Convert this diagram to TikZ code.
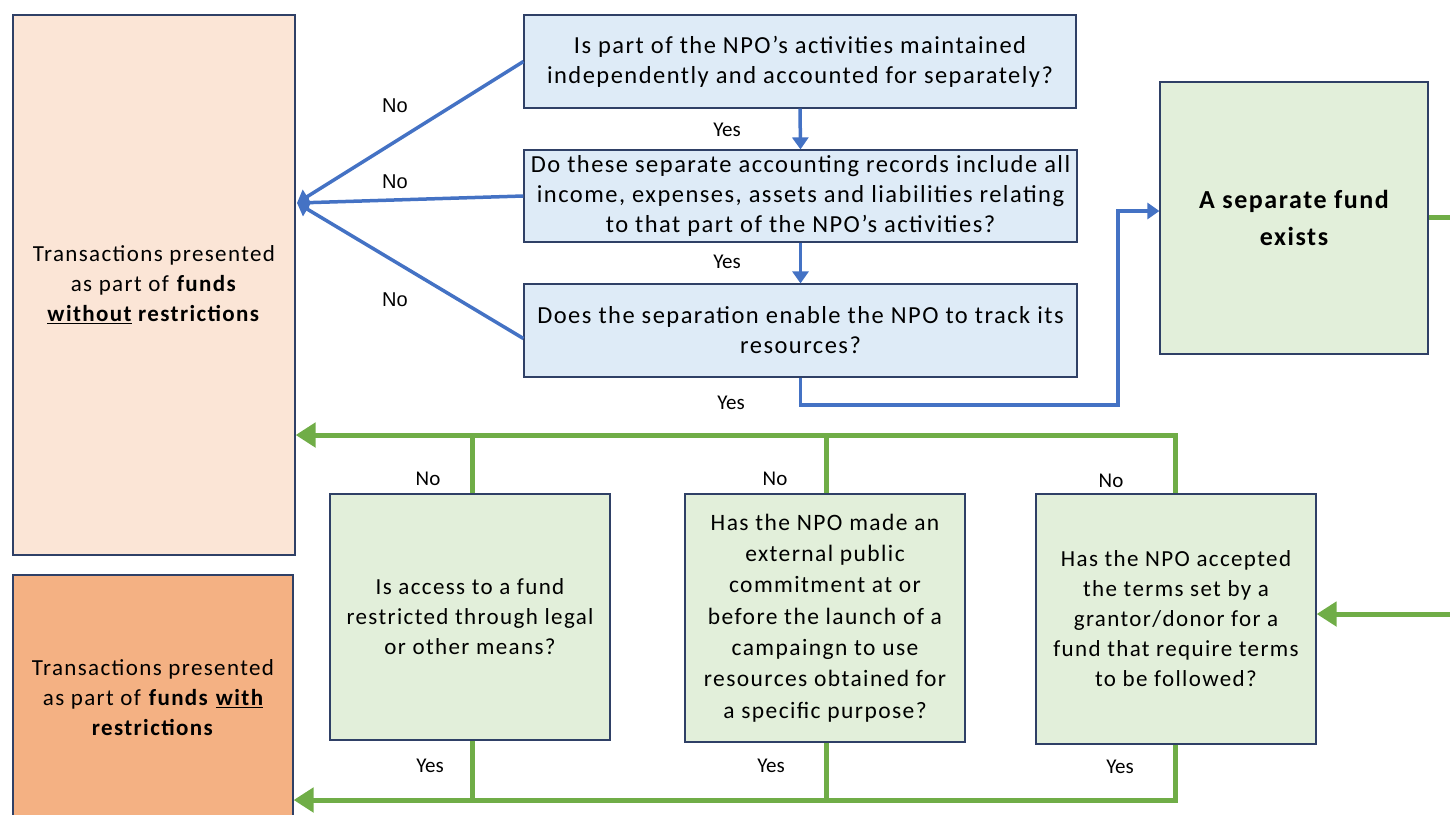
\documentclass[tikz,border=0pt]{standalone}
\usepackage{fontspec}
\setmainfont[LetterSpace=6]{Carlito}
\newfontfamily\lblfont{Liberation Sans}
\newfontfamily\yesfont{Carlito}
\usetikzlibrary{arrows.meta}
\definecolor{navy}{HTML}{2F4066}
\definecolor{peach}{HTML}{FBE5D6}
\definecolor{orng}{HTML}{F4B183}
\definecolor{lblue}{HTML}{DEEBF7}
\definecolor{lgreen}{HTML}{E2EFDA}
\definecolor{bline}{HTML}{4472C4}
\definecolor{gline}{HTML}{70AD47}
\tikzset{
  boxst/.style={draw=navy, line width=1.2pt, inner sep=0pt, align=center, font=\fontsize{23}{30}\selectfont},
  bluebox/.style={boxst, fill=lblue, font=\fontsize{24.5}{30}\selectfont},
  bluearr/.style={draw=bline, line width=3.5pt, -{Triangle[length=12pt,width=16pt]}},
  bluepl/.style={draw=bline, line width=3.5pt},
  greenarr/.style={draw=gline, line width=5pt, -{Triangle[length=20pt,width=24pt]}},
  greenpl/.style={draw=gline, line width=5pt},
  nolbl/.style={font=\lblfont\fontsize{20}{22}\selectfont, inner sep=0pt},
  yeslbl/.style={font=\yesfont\fontsize{21}{22}\selectfont, inner sep=0pt}
}
\begin{document}
\begin{tikzpicture}[x=1pt,y=-1pt]
\useasboundingbox (0,0) rectangle (1450,814);
% left boxes
\node[boxst, fill=peach, minimum width=282pt, minimum height=540pt] (L1) at (154,285)
  {Transactions presented\\as part of \textbf{funds}\\\textbf{\underline{without}} \textbf{restrictions}};
\node[boxst, fill=orng, minimum width=280pt, minimum height=245pt] (L2) at (153,697.5)
  {Transactions presented\\as part of \textbf{funds} \textbf{\underline{with}}\\\textbf{restrictions}};
% blue question boxes
\node[bluebox, minimum width=552pt, minimum height=93pt] (Q1) at (800,61.5)
  {Is part of the NPO's activities maintained\\independently and accounted for separately?};
\node[bluebox, minimum width=553pt, minimum height=92pt] (Q2) at (800.5,196)
  {Do these separate accounting records include all\\income, expenses, assets and liabilities relating\\to that part of the NPO's activities?};
\node[bluebox, minimum width=553pt, minimum height=93pt] (Q3) at (800.5,330.5)
  {Does the separation enable the NPO to track its\\resources?};
% fund box
\node[boxst, fill=lgreen, minimum width=268pt, minimum height=272pt, font=\fontsize{26}{37}\selectfont\bfseries] (F) at (1294,218)
  {A separate fund\\exists};
% green question boxes
\node[boxst, fill=lgreen, minimum width=280pt, minimum height=246pt] (G1) at (470,617)
  {Is access to a fund\\restricted through legal\\or other means?};
\node[boxst, fill=lgreen, minimum width=280pt, minimum height=248pt, font=\fontsize{23.5}{31.3}\selectfont] (G2) at (825,618)
  {Has the NPO made an\\external public\\commitment at or\\before the launch of a\\campaingn to use\\resources obtained for\\a specific purpose?};
\node[boxst, fill=lgreen, minimum width=280pt, minimum height=250pt] (G3) at (1176,619)
  {Has the NPO accepted\\the terms set by a\\grantor/donor for a\\fund that require terms\\to be followed?};
% blue connectors
\coordinate (bin) at (297,203);
\draw[bluearr] (Q1.west) -- (bin);
\draw[bluearr] (Q2.west) -- (bin);
\draw[bluearr] ([yshift=-8pt]Q3.west) -- (bin);
\draw[bluearr] (Q1.south) -- (Q2.north);
\draw[bluearr] (Q2.south) -- (Q3.north);
\draw[bluearr] (Q3.south) |- (1118,405) |- (F.west |- 0,211);
\node[nolbl] (n1) at (395,106) {No};
\node[nolbl] (n2) at (395,182) {No};
\node[nolbl] (n3) at (395,300) {No};
\node[yeslbl] (y1) at (727,130) {Yes};
\node[yeslbl] (y2) at (727,262) {Yes};
\node[yeslbl] (y3) at (731,403) {Yes};
% green connectors
\coordinate (tbus) at (1175,435);
\coordinate (bbus) at (1175,800);
\draw[greenarr] (G3.north -| tbus) -- (tbus) -- (L1.east |- tbus);
\draw[greenpl] (G1.north -| 472,0) -- (472,435);
\draw[greenpl] (G2.north -| 826,0) -- (826,435);
\draw[greenarr] (G3.south -| bbus) -- (bbus) -- (L2.east |- bbus);
\draw[greenpl] (G1.south -| 472,0) -- (472,800);
\draw[greenpl] (G2.south -| 826,0) -- (826,800);
\coordinate (rt) at (1470,217);
\coordinate (rb) at (1470,614);
\draw[greenpl] (F.east |- rt) -- (rt) -- (rb);
\draw[greenarr] (rb) -- (G3.east |- rb);
\node[yeslbl] (n4) at (428,479) {No};
\node[yeslbl] (n5) at (775,479) {No};
\node[yeslbl] (n6) at (1111,481) {No};
\node[yeslbl] (y4) at (430,766) {Yes};
\node[yeslbl] (y5) at (771,766) {Yes};
\node[yeslbl] (y6) at (1120,767) {Yes};
\end{tikzpicture}
\end{document}
